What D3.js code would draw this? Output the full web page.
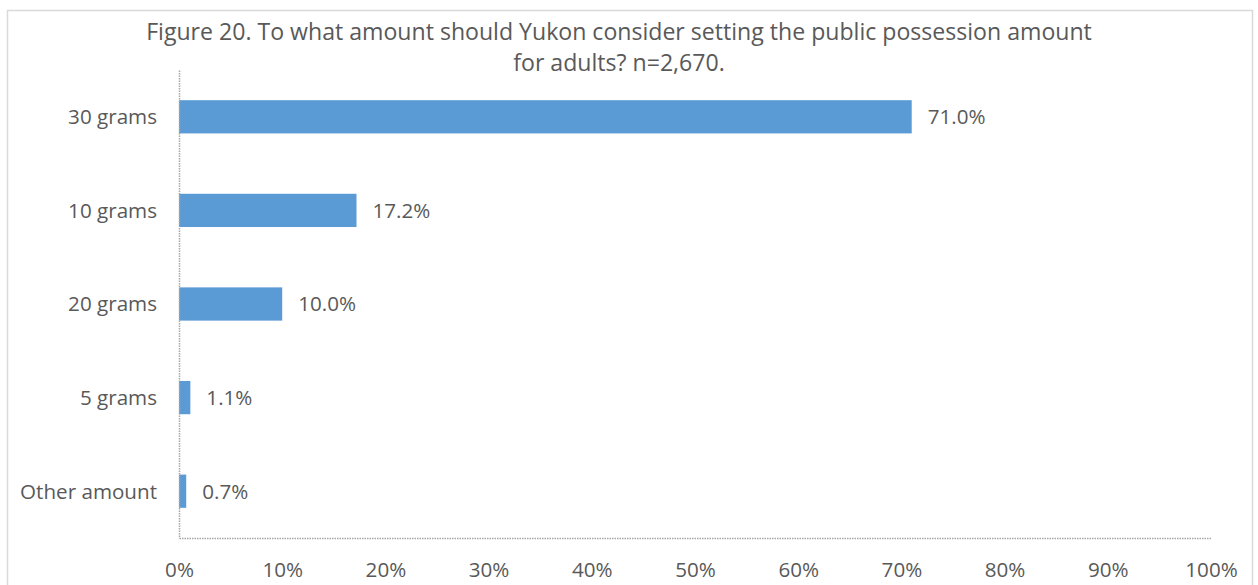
<!DOCTYPE html>
<html>
<head>
<meta charset="utf-8">
<script src="https://cdn.jsdelivr.net/npm/d3@7"></script>
<style>
  html, body { margin: 0; padding: 0; background: #ffffff; }
  svg { display: block; }
  text { font-family: "Open Sans", Lato, "Liberation Sans", sans-serif; fill: #595959; }
</style>
</head>
<body>
<svg id="chart" width="1258" height="585"></svg>
<script>
// Survey answers, sorted as shown (largest first)
const categories = ["30 grams", "10 grams", "20 grams", "5 grams", "Other amount"];
const percentValues = [71.0, 17.2, 10.0, 1.1, 0.7];
const tickValues = [0, 10, 20, 30, 40, 50, 60, 70, 80, 90, 100];
const titleLines = [
  "Figure 20. To what amount should Yukon consider setting the public possession amount",
  "for adults? n=2,670."
];

const svg = d3.select("#chart");

// Font sizes chosen so reference strings occupy their intended widths
function fitSize(str, targetWidth, base) {
  const t = svg.append("text").attr("font-size", base).text(str);
  const w = t.node().getComputedTextLength();
  t.remove();
  return base * targetWidth / w;
}
const labelSize = fitSize("Other amount", 137, 18);
const titleSize = fitSize(titleLines[0], 946, 20);

// Chart area frame
svg.append("rect")
  .attr("x", 7.5).attr("y", 10.5)
  .attr("width", 1245).attr("height", 590)
  .attr("fill", "#ffffff")
  .attr("stroke", "#d9d9d9").attr("stroke-width", 1.5);

const plot = { left: 179, right: 1211, top: 70, bottom: 538 };

const x = d3.scaleLinear().domain([0, 100]).range([plot.left, plot.right]);
const y = d3.scaleBand().domain(categories).range([plot.top, plot.bottom])
  .paddingInner(0.645).paddingOuter(0.3225);

// Title (two centred lines)
svg.append("g").selectAll("text")
  .data(titleLines)
  .join("text")
  .attr("x", 619)
  .attr("y", (d, i) => 40 + i * 31)
  .attr("text-anchor", "middle")
  .attr("font-size", titleSize)
  .text(d => d);

// Bars
svg.append("g").selectAll("rect")
  .data(categories)
  .join("rect")
  .attr("x", x(0))
  .attr("y", d => y(d))
  .attr("width", (d, i) => x(percentValues[i]) - x(0))
  .attr("height", y.bandwidth())
  .attr("fill", "#5b9bd5");

// Value labels
svg.append("g").selectAll("text")
  .data(categories)
  .join("text")
  .attr("x", (d, i) => x(percentValues[i]) + 16)
  .attr("y", d => y(d) + y.bandwidth() / 2)
  .attr("dy", "0.36em")
  .attr("font-size", labelSize)
  .text((d, i) => percentValues[i].toFixed(1) + "%");

// Axes (dotted grey lines, no tick marks)
const xAxis = d3.axisBottom(x).tickValues(tickValues).tickSize(0).tickPadding(24)
  .tickFormat(d => d + "%");
const gx = svg.append("g").attr("transform", `translate(0,${plot.bottom})`).call(xAxis);
gx.select(".domain").attr("stroke", "#a6a6a6").attr("stroke-width", 1.5).attr("stroke-dasharray", "1.5,1");
gx.selectAll("text").attr("font-size", labelSize).attr("fill", "#595959")
  .style("font-family", "'Open Sans', Lato, sans-serif");

const yAxis = d3.axisLeft(y).tickSize(0).tickPadding(22);
const gy = svg.append("g").attr("transform", `translate(${plot.left},0)`).call(yAxis);
gy.select(".domain").attr("stroke", "#a6a6a6").attr("stroke-width", 1.5).attr("stroke-dasharray", "1.5,1");
gy.selectAll("text").attr("font-size", labelSize).attr("fill", "#595959")
  .attr("dy", "0.36em")
  .style("font-family", "'Open Sans', Lato, sans-serif");
</script>
</body>
</html>
